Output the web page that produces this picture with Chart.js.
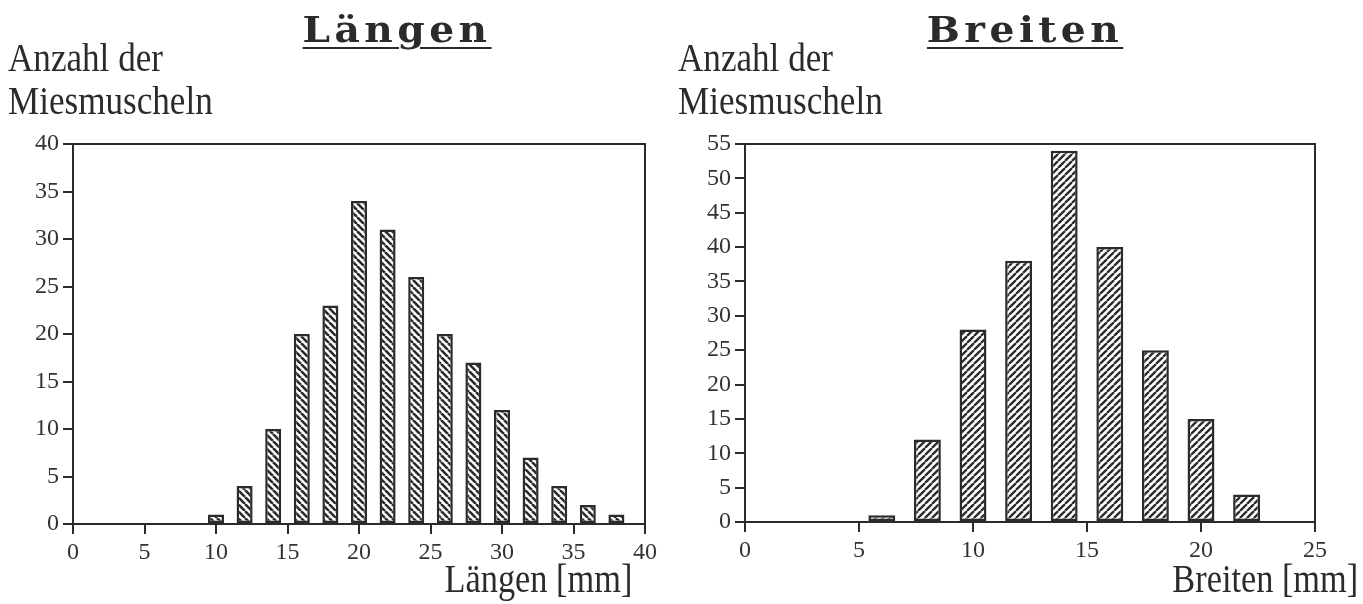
<!DOCTYPE html>
<html lang="de">
<head>
<meta charset="utf-8">
<title>Längen und Breiten der Miesmuscheln</title>
<script src="https://cdn.jsdelivr.net/npm/chart.js@4.4.1/dist/chart.umd.min.js"></script>
<style>
  html, body { margin: 0; padding: 0; background: #fff; }
  body { width: 1363px; height: 604px; position: relative; overflow: hidden; color: #2b2b2b; }
  canvas { position: absolute; top: 0; }
  .ueberschrift { position: absolute; top: 9px; font-family: "DejaVu Serif", serif; font-weight: bold;
                  font-size: 35px; letter-spacing: 4px; text-decoration: underline; text-underline-offset: 5px;
                  text-decoration-thickness: 2px; white-space: nowrap; transform: translateX(-50%) scaleX(1.12); }
  .ytitel { position: absolute; top: 36px; font-family: "Liberation Serif", serif; font-size: 39px;
            line-height: 43px; transform: scaleX(0.9); transform-origin: left top; white-space: nowrap; }
  .xtitel { position: absolute; top: 558px; font-family: "Liberation Serif", serif; font-size: 39px;
            line-height: 42px; transform: scaleX(0.88); transform-origin: right top; white-space: nowrap; }
</style>
</head>
<body>
<canvas id="laengen" width="680" height="604" style="left:0"></canvas>
<canvas id="breiten" width="683" height="604" style="left:680px"></canvas>

<div class="ueberschrift" style="left:397px">Längen</div>
<div class="ueberschrift" style="left:1025px">Breiten</div>
<div class="ytitel" style="left:8px">Anzahl der<br>Miesmuscheln</div>
<div class="ytitel" style="left:678px">Anzahl der<br>Miesmuscheln</div>
<div class="xtitel" style="right:731px">Längen [mm]</div>
<div class="xtitel" style="right:5px">Breiten [mm]</div>

<script>
// Klassenmitten (mm) und Anzahl der Miesmuscheln
const laengenKlassen = [10, 12, 14, 16, 18, 20, 22, 24, 26, 28, 30, 32, 34, 36, 38];
const laengenAnzahl  = [1, 4, 10, 20, 23, 34, 31, 26, 20, 17, 12, 7, 4, 2, 1];
const breitenKlassen = [6, 8, 10, 12, 14, 16, 18, 20, 22];
const breitenAnzahl  = [1, 12, 28, 38, 54, 40, 25, 15, 4];

// Achsenbeschriftungen
const laengenXTicks = [0, 5, 10, 15, 20, 25, 30, 35, 40];
const laengenYTicks = [0, 5, 10, 15, 20, 25, 30, 35, 40];
const breitenXTicks = [0, 5, 10, 15, 20, 25];
const breitenYTicks = [0, 5, 10, 15, 20, 25, 30, 35, 40, 45, 50, 55];

const tinte = '#2b2b2b';

// Schraffur als Muster: 'rueck' = \\\ , 'vor' = ///
function schraffur(richtung, s, dicke) {
    const c = document.createElement('canvas');
    c.width = s;
    c.height = s;
    const g = c.getContext('2d');
    g.fillStyle = '#ffffff';
    g.fillRect(0, 0, s, s);
    g.strokeStyle = tinte;
    g.lineWidth = dicke;
    g.beginPath();
    for (const k of [-s, 0, s]) {
        if (richtung === 'rueck') {
            g.moveTo(k, 0);
            g.lineTo(k + s, s);
        } else {
            g.moveTo(k, s);
            g.lineTo(k + s, 0);
        }
    }
    g.stroke();
    return g.createPattern(c, 'repeat');
}

// Rahmen um die Zeichenfläche
const rahmen = {
    id: 'rahmen',
    beforeDatasetsDraw(chart) {
        const { ctx, chartArea: a } = chart;
        ctx.save();
        ctx.strokeStyle = tinte;
        ctx.lineWidth = 2;
        ctx.strokeRect(a.left, a.top, a.right - a.left, a.bottom - a.top);
        ctx.restore();
    }
};

function achse(ticks, breite, hoehe) {
    return {
        type: 'linear',
        min: ticks[0],
        max: ticks[ticks.length - 1],
        offset: false,
        afterBuildTicks: s => { s.ticks = ticks.map(v => ({ value: v })); },
        afterFit: s => {
            if (breite) s.width = breite;
            if (hoehe) s.height = hoehe;
        },
        grid: {
            offset: false,
            drawOnChartArea: false,
            drawTicks: true,
            tickLength: 10,
            color: tinte,
            lineWidth: 2
        },
        border: { display: true, color: tinte, width: 2 },
        ticks: {
            color: '#333',
            padding: 4,
            maxRotation: 0,
            autoSkip: false,
            font: { family: 'Liberation Serif', size: 24 }
        }
    };
}

function erstelleHistogramm(canvasId, klassen, anzahl, xTicks, yTicks, muster, balkenAnteil, flaeche) {
    const ctx = document.getElementById(canvasId);
    new Chart(ctx, {
        type: 'bar',
        data: {
            datasets: [{
                data: klassen.map((k, i) => ({ x: k, y: anzahl[i] })),
                backgroundColor: muster,
                borderColor: tinte,
                borderWidth: 2.5,
                borderSkipped: false,
                categoryPercentage: 1,
                barPercentage: balkenAnteil
            }]
        },
        options: {
            responsive: false,
            animation: false,
            layout: { padding: { left: 0, top: flaeche.oben, right: flaeche.rechts, bottom: 0 } },
            scales: {
                x: achse(xTicks, null, flaeche.xHoehe),
                y: achse(yTicks, flaeche.yBreite, null)
            },
            plugins: {
                legend: { display: false },
                tooltip: { enabled: false }
            }
        },
        plugins: [rahmen]
    });
}

erstelleHistogramm('laengen', laengenKlassen, laengenAnzahl, laengenXTicks, laengenYTicks,
    schraffur('rueck', 7, 2.6), 0.56, { oben: 144, rechts: 35, xHoehe: 80, yBreite: 73 });
erstelleHistogramm('breiten', breitenKlassen, breitenAnzahl, breitenXTicks, breitenYTicks,
    schraffur('vor', 7, 2.3), 0.59, { oben: 144, rechts: 48, xHoehe: 82, yBreite: 65 });
</script>
</body>
</html>
